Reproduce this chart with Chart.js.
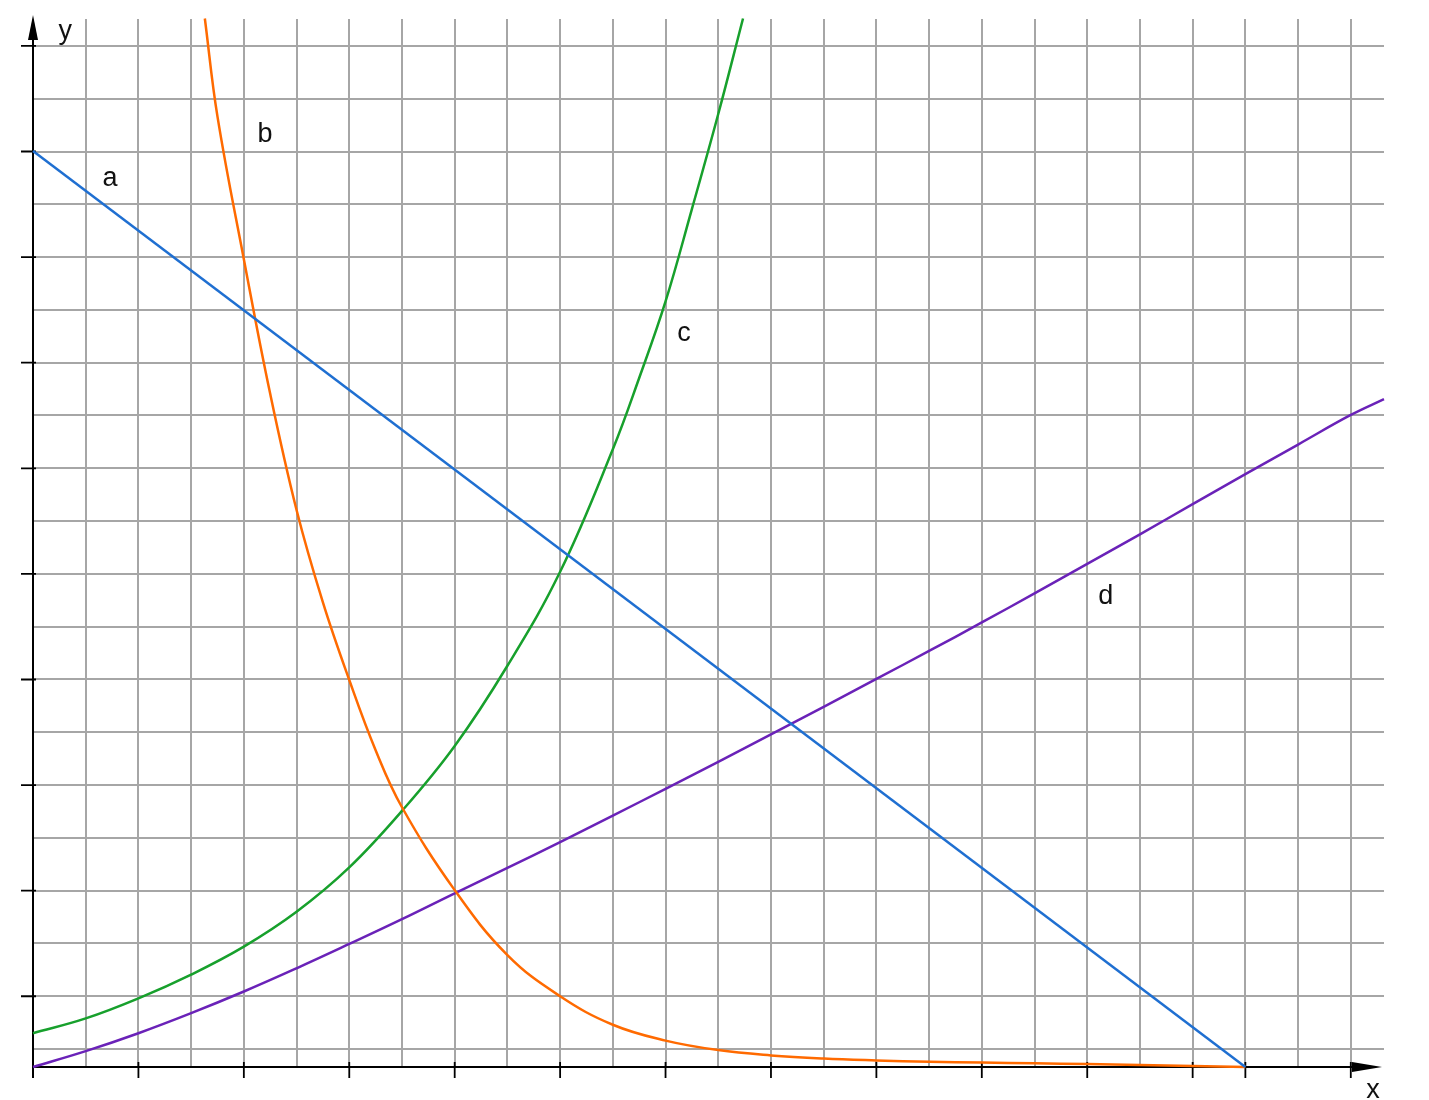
<!DOCTYPE html>
<html>
<head>
<meta charset="utf-8">
<title>Graphs a, b, c, d</title>
<script src="https://cdn.jsdelivr.net/npm/chart.js@4.4.1/dist/chart.umd.min.js"></script>
<style>
  html, body { margin: 0; padding: 0; background: #fff; }
  .container { width: 1429px; height: 1100px; position: relative; }
</style>
</head>
<body>
<div class="container"><canvas id="myChart"></canvas></div>
<script>
const aX = [0, 23];
const aY = [17.35, 0];

const bX = [3.26, 3.5, 4, 4.5, 5, 5.5, 6, 6.5, 7, 8, 9, 10, 11, 12, 13, 14, 15, 16, 17, 18, 19, 20, 21, 22, 23];
const bY = [19.86, 18.0, 15.3, 12.75, 10.55, 8.8, 7.33, 6.0, 4.92, 3.35, 2.12, 1.34, 0.8, 0.5, 0.32, 0.22, 0.16, 0.125, 0.1, 0.085, 0.07, 0.055, 0.04, 0.02, 0];

const cX = [0, 1, 2, 3, 4, 5, 6, 7, 8, 9, 10, 11, 11.5, 12, 12.5, 13, 13.47];
const cY = [0.64, 0.92, 1.3, 1.75, 2.28, 2.94, 3.78, 4.85, 6.08, 7.6, 9.38, 11.7, 13.05, 14.5, 16.25, 18.05, 19.86];

const dX = [0, 1, 2, 3, 4, 5, 6, 7, 8, 9, 10, 11, 12, 13, 14, 15, 16, 17, 18, 19, 20, 21, 22, 23, 24, 25, 25.63];
const dY = [0, 0.3, 0.64, 1.02, 1.43, 1.87, 2.33, 2.8, 3.29, 3.77, 4.26, 4.76, 5.27, 5.78, 6.3, 6.82, 7.35, 7.88, 8.42, 8.97, 9.53, 10.09, 10.66, 11.23, 11.79, 12.35, 12.65];

// grid lines and tick marks
const xGrid = [0, 1, 2, 3, 4, 5, 6, 7, 8, 9, 10, 11, 12, 13, 14, 15, 16, 17, 18, 19, 20, 21, 22, 23, 24, 25];
const yGrid = [0.34, 1.34, 2.34, 3.34, 4.34, 5.34, 6.34, 7.34, 8.34, 9.34, 10.34, 11.34, 12.34, 13.34, 14.34, 15.34, 16.34, 17.34, 18.34, 19.34];
const xTicks = [0, 2, 4, 6, 8, 10, 12, 14, 16, 18, 20, 22, 23, 25];
const yTicks = [1.34, 3.34, 5.34, 7.34, 9.34, 11.34, 13.34, 15.34, 17.34, 19.34];

// curve names and where they are written
const labels = ['a', 'b', 'c', 'd', 'y', 'x'];
const labelX = [1.46, 4.4, 12.35, 20.35, 0.61, 25.42];
const labelY = [16.82, 17.67, 13.9, 8.92, 19.62, -0.45];

function toPoints(xs, ys) {
  return xs.map((x, i) => ({ x: x, y: ys[i] }));
}

function curve(xs, ys, color, smooth) {
  return {
    data: toPoints(xs, ys),
    borderColor: color,
    borderWidth: 2.5,
    pointRadius: 0,
    fill: false,
    clip: false,
    tension: smooth ? 0.4 : 0,
  };
}

const axesPlugin = {
  id: 'axes',
  beforeDatasetsDraw(chart) {
    const ctx = chart.ctx;
    const xs = chart.scales.x;
    const ys = chart.scales.y;
    const x0 = xs.getPixelForValue(0);
    const y0 = ys.getPixelForValue(0);
    const right = chart.chartArea.right;
    ctx.save();
    ctx.strokeStyle = '#000';
    ctx.fillStyle = '#000';
    ctx.lineWidth = 2;
    ctx.beginPath();
    ctx.moveTo(x0, y0 + 11);
    ctx.lineTo(x0, 30);
    ctx.moveTo(x0, y0);
    ctx.lineTo(right - 25, y0);
    ctx.stroke();
    // arrow heads
    ctx.beginPath();
    ctx.moveTo(x0, 15);
    ctx.lineTo(x0 - 5, 40);
    ctx.lineTo(x0 + 5, 40);
    ctx.closePath();
    ctx.fill();
    ctx.beginPath();
    ctx.moveTo(right - 2, y0);
    ctx.lineTo(right - 32, y0 - 5);
    ctx.lineTo(right - 32, y0 + 5);
    ctx.closePath();
    ctx.fill();
    // tick marks
    ctx.lineWidth = 1.8;
    ctx.beginPath();
    xTicks.forEach((v) => {
      const px = xs.getPixelForValue(v);
      ctx.moveTo(px, y0 - 5);
      ctx.lineTo(px, y0 + 11);
    });
    yTicks.forEach((v) => {
      const py = ys.getPixelForValue(v);
      ctx.moveTo(x0 - 12, py);
      ctx.lineTo(x0 + 3, py);
    });
    ctx.stroke();
    ctx.restore();
  },
  afterDraw(chart) {
    const ctx = chart.ctx;
    ctx.save();
    ctx.fillStyle = '#111';
    ctx.font = '27px "Liberation Sans", Arial, sans-serif';
    ctx.textAlign = 'center';
    ctx.textBaseline = 'middle';
    labels.forEach((t, i) => {
      ctx.fillText(t, chart.scales.x.getPixelForValue(labelX[i]), chart.scales.y.getPixelForValue(labelY[i]));
    });
    ctx.restore();
  },
};

const ctx = document.getElementById('myChart').getContext('2d');

const chart = new Chart(ctx, {
  type: 'line',
  data: {
    datasets: [
      curve(aX, aY, '#1f6fd1', false),
      curve(bX, bY, '#ff6a00', true),
      curve(cX, cY, '#17a02c', true),
      curve(dX, dY, '#6a22b8', true),
    ],
  },
  options: {
    responsive: true,
    maintainAspectRatio: false,
    animation: false,
    layout: { padding: { top: 19, right: 45, left: 0, bottom: 0 } },
    elements: { line: { capBezierPoints: false } },
    plugins: { legend: { display: false }, tooltip: { enabled: false } },
    scales: {
      x: {
        type: 'linear',
        min: 0,
        max: 25.63,
        border: { display: false },
        ticks: { display: false },
        grid: { color: '#a6a6a6', lineWidth: 2, drawTicks: false },
        afterBuildTicks: (scale) => {
          scale.ticks = xGrid.map((v) => ({ value: v }));
        },
        afterFit: (scale) => {
          scale.height = 33;
        },
      },
      y: {
        type: 'linear',
        min: 0,
        max: 19.85,
        border: { display: false },
        ticks: { display: false },
        grid: { color: '#a6a6a6', lineWidth: 2, drawTicks: false },
        afterBuildTicks: (scale) => {
          scale.ticks = yGrid.map((v) => ({ value: v }));
        },
        afterFit: (scale) => {
          scale.width = 33;
        },
      },
    },
  },
  plugins: [axesPlugin],
});
</script>
</body>
</html>
